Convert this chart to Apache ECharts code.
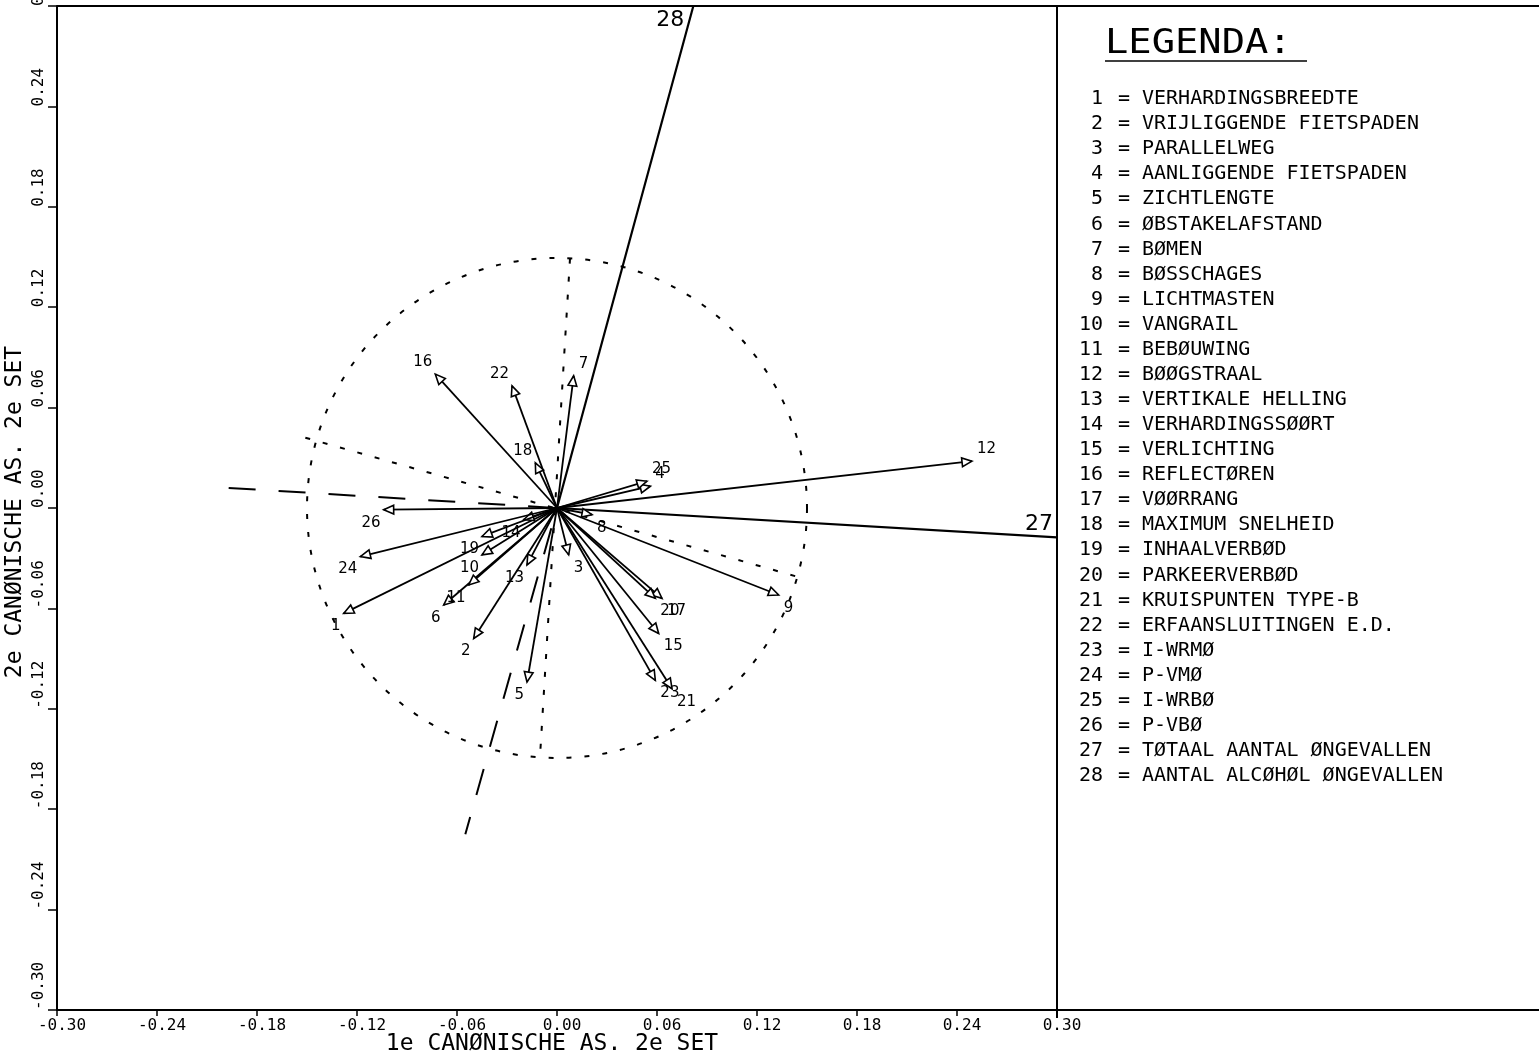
<!DOCTYPE html>
<html>
<head>
<meta charset="utf-8">
<script src="https://cdn.jsdelivr.net/npm/echarts@6.0.0/dist/echarts.min.js"></script>
<style>
  html, body { margin: 0; padding: 0; background: #fff; }
  #chart { width: 1539px; height: 1057px; }
</style>
</head>
<body>
<div id="chart"></div>
<script>
// Variable numbers and names shown in the legend panel
const varNumbers = [1, 2, 3, 4, 5, 6, 7, 8, 9, 10, 11, 12, 13, 14,
                    15, 16, 17, 18, 19, 20, 21, 22, 23, 24, 25, 26, 27, 28];
const varNames = [
  'VERHARDINGSBREEDTE', 'VRIJLIGGENDE FIETSPADEN', 'PARALLELWEG',
  'AANLIGGENDE FIETSPADEN', 'ZICHTLENGTE', 'ØBSTAKELAFSTAND', 'BØMEN',
  'BØSSCHAGES', 'LICHTMASTEN', 'VANGRAIL', 'BEBØUWING', 'BØØGSTRAAL',
  'VERTIKALE HELLING', 'VERHARDINGSSØØRT', 'VERLICHTING', 'REFLECTØREN',
  'VØØRRANG', 'MAXIMUM SNELHEID', 'INHAALVERBØD', 'PARKEERVERBØD',
  'KRUISPUNTEN TYPE-B', 'ERFAANSLUITINGEN E.D.', 'I-WRMØ', 'P-VMØ',
  'I-WRBØ', 'P-VBØ', 'TØTAAL AANTAL ØNGEVALLEN', 'AANTAL ALCØHØL ØNGEVALLEN'
];

// Axis titles
const xTitle = '1e CANØNISCHE AS. 2e SET';
const yTitle = '2e CANØNISCHE AS. 2e SET';

// First set (variables 1..26): coordinates on 1e / 2e canonical axis
const set1Ids = [1, 2, 3, 4, 5, 6, 7, 8, 9, 10, 11, 12, 13,
                 14, 15, 16, 17, 18, 19, 20, 21, 22, 23, 24, 25, 26];
const set1X = [-0.128, -0.050, 0.007, 0.056, -0.018, -0.068, 0.010, 0.021, 0.133, -0.045, -0.053, 0.249, -0.018,
               -0.020, 0.061, -0.073, 0.063, -0.013, -0.045, 0.059, 0.069, -0.027, 0.059, -0.118, 0.054, -0.104];
const set1Y = [-0.063, -0.078, -0.028, 0.013, -0.104, -0.058, 0.079, -0.004, -0.052, -0.028, -0.046, 0.028, -0.034,
               -0.007, -0.075, 0.080, -0.054, 0.027, -0.017, -0.054, -0.108, 0.073, -0.103, -0.029, 0.016, -0.001];

// Second set (variables 27, 28): directions drawn out to the plot frame
const set2Ids = [27, 28];
const set2X = [0.300, 0.0818];
const set2Y = [-0.0175, 0.300];

// Reference circle and axis guides
const circleRadius = 0.15;
const dottedAxisA = [[-0.151, 0.042], [0.144, -0.041]];
const dottedAxisB = [[0.0078, 0.149], [-0.0102, -0.1487]];
const dashedAxes = [[-0.197, 0.012], [0, 0], [-0.055, -0.195]];

// Tick labels
const xTickLabels = ['-0.30', '-0.24', '-0.18', '-0.12', '-0.06', '0.00', '0.06', '0.12', '0.18', '0.24', '0.30'];
const yTickLabels = ['-0.30', '-0.24', '-0.18', '-0.12', '-0.06', '0.00', '0.06', '0.12', '0.18', '0.24', '0.30'];

const MONO = '"DejaVu Sans Mono", "Liberation Mono", monospace';
const SANS = '"DejaVu Sans", "Liberation Sans", sans-serif';

const chart = echarts.init(document.getElementById('chart'), null, { renderer: 'canvas' });

const tickIndex = v => Math.round((v + 0.3) / 0.06);

function renderArrow(params, api) {
  const o = api.coord([0, 0]);
  const t = api.coord([api.value(0), api.value(1)]);
  const id = api.value(2);
  const dx = t[0] - o[0], dy = t[1] - o[1];
  const L = Math.hypot(dx, dy) || 1;
  const ux = dx / L, uy = dy / L;
  const hl = 10, hw = 4.4;
  const bx = t[0] - ux * hl, by = t[1] - uy * hl;
  const p1 = [bx - uy * hw, by + ux * hw];
  const p2 = [bx + uy * hw, by - ux * hw];
  const right = dx >= 0, up = dy < 0;
  return {
    type: 'group',
    children: [
      { type: 'line', shape: { x1: o[0], y1: o[1], x2: t[0], y2: t[1] },
        style: { stroke: '#000', lineWidth: 1.8 } },
      { type: 'polygon', shape: { points: [t, p1, p2] },
        style: { stroke: '#000', fill: '#fff', lineWidth: 1.6 } },
      { type: 'text', x: t[0] + (right ? 5 : -3), y: t[1] + (up ? -12 : 13),
        style: { text: String(id), font: '15px ' + SANS, fill: '#000',
                 align: right ? 'left' : 'right', verticalAlign: 'middle' } }
    ]
  };
}

function renderSet2(params, api) {
  const o = api.coord([0, 0]);
  const x = api.value(0), y = api.value(1);
  const t = api.coord([x, y]);
  const atRight = Math.abs(x) >= 0.2999;
  return {
    type: 'group',
    children: [
      { type: 'line', shape: { x1: o[0], y1: o[1], x2: t[0], y2: t[1] },
        style: { stroke: '#000', lineWidth: 2.2 } },
      { type: 'text', x: t[0] + (atRight ? -4 : -9), y: t[1] + (atRight ? -13 : 14),
        style: { text: String(api.value(2)), font: '22px ' + SANS, fill: '#000',
                 align: 'right', verticalAlign: 'middle' } }
    ]
  };
}

function renderCircle(params, api) {
  const c = api.coord([0, 0]);
  const r = api.size([api.value(0), 0])[0];
  return {
    type: 'circle',
    shape: { cx: c[0], cy: c[1], r: r },
    style: { fill: 'none', stroke: '#000', lineWidth: 2, lineDash: [5, 13] }
  };
}

const option = {
  backgroundColor: '#fff',
  animation: false,
  grid: { left: 57, right: 482, top: 6, bottom: 47, containLabel: false, outerBoundsMode: 'none' },
  xAxis: {
    type: 'value', min: -0.3, max: 0.3, interval: 0.06,
    axisLine: { onZero: false, lineStyle: { color: '#000', width: 2 } },
    axisTick: { length: 6, lineStyle: { color: '#000', width: 1.5 } },
    splitLine: { show: false },
    axisLabel: {
      formatter: v => xTickLabels[tickIndex(v)],
      fontFamily: MONO, fontSize: 16, color: '#000', margin: 8, padding: [0, 0, 0, 10]
    }
  },
  yAxis: {
    type: 'value', min: -0.3, max: 0.3, interval: 0.06,
    axisLine: { onZero: false, lineStyle: { color: '#000', width: 2 } },
    axisTick: { length: 9, lineStyle: { color: '#000', width: 1.5 } },
    splitLine: { show: false },
    axisLabel: {
      formatter: v => yTickLabels[tickIndex(v)],
      rotate: 90, align: 'left', verticalAlign: 'bottom',
      fontFamily: MONO, fontSize: 16, color: '#000', margin: 10
    }
  },
  series: [
    { type: 'custom', renderItem: renderCircle, data: [[circleRadius]], silent: true, z: 1 },
    { type: 'line', data: dottedAxisA, symbol: 'none', silent: true, z: 1,
      lineStyle: { color: '#000', width: 2, type: [5, 13] } },
    { type: 'line', data: dottedAxisB, symbol: 'none', silent: true, z: 1,
      lineStyle: { color: '#000', width: 2, type: [5, 13] } },
    { type: 'line', data: dashedAxes, symbol: 'none', silent: true, z: 1,
      lineStyle: { color: '#000', width: 2, type: [27, 23] } },
    { type: 'custom', renderItem: renderSet2, z: 3, silent: true,
      data: set2Ids.map((id, i) => [set2X[i], set2Y[i], id]) },
    { type: 'custom', renderItem: renderArrow, z: 4, silent: true,
      data: set1Ids.map((id, i) => [set1X[i], set1Y[i], id]) }
  ]
};

chart.setOption(option);

// Frame extension, axis titles and legend panel to the right of the plot
const tl = chart.convertToPixel({ gridIndex: 0 }, [-0.3, 0.3]);
const br = chart.convertToPixel({ gridIndex: 0 }, [0.3, -0.3]);
const W = chart.getWidth();
const graphics = [
  { type: 'line', shape: { x1: tl[0], y1: tl[1], x2: W, y2: tl[1] }, style: { stroke: '#000', lineWidth: 2 } },
  { type: 'line', shape: { x1: tl[0], y1: br[1], x2: W, y2: br[1] }, style: { stroke: '#000', lineWidth: 2 } },
  { type: 'line', shape: { x1: br[0], y1: tl[1], x2: br[0], y2: br[1] + 8 }, style: { stroke: '#000', lineWidth: 2 } },
  { type: 'text', x: (tl[0] + br[0]) / 2 - 5, y: br[1] + 34,
    style: { text: xTitle, font: '23px ' + MONO, fill: '#000', align: 'center', verticalAlign: 'middle' } },
  { type: 'text', x: 15, y: (tl[1] + br[1]) / 2 + 4, rotation: Math.PI / 2,
    style: { text: yTitle, font: '23px ' + MONO, fill: '#000', align: 'center', verticalAlign: 'middle' } },
  { type: 'text', x: br[0] + 48, y: 44, scaleX: 1.14,
    style: { text: 'LEGENDA:', font: '34px ' + MONO, fill: '#000', align: 'left', verticalAlign: 'middle' } },
  { type: 'line', shape: { x1: br[0] + 48, y1: 61, x2: br[0] + 250, y2: 61 }, style: { stroke: '#000', lineWidth: 1.5 } }
];
varNumbers.forEach((n, i) => {
  const y = 99 + i * 25.07;
  graphics.push(
    { type: 'text', x: br[0] + 46, y: y,
      style: { text: String(n), font: '20px ' + MONO, fill: '#000', align: 'right', verticalAlign: 'middle' } },
    { type: 'text', x: br[0] + 67, y: y,
      style: { text: '=', font: '20px ' + MONO, fill: '#000', align: 'center', verticalAlign: 'middle' } },
    { type: 'text', x: br[0] + 85, y: y,
      style: { text: varNames[i], font: '20px ' + MONO, fill: '#000', align: 'left', verticalAlign: 'middle' } }
  );
});
chart.setOption({ graphic: graphics });
</script>
</body>
</html>
